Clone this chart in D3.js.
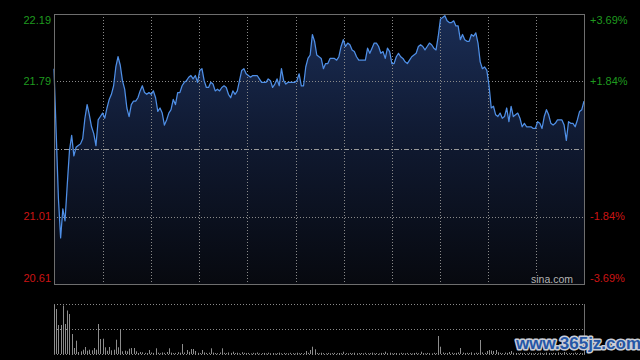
<!DOCTYPE html>
<html>
<head>
<meta charset="utf-8">
<script src="https://cdn.jsdelivr.net/npm/d3@7/dist/d3.min.js"></script>
<style>
html,body{margin:0;padding:0;background:#000;}
svg{display:block;}
text{font-family:"Liberation Sans",Arial,sans-serif;}
</style>
</head>
<body>
<svg id="chart" width="640" height="360"></svg>
<script>
// ---------- data ----------
const prevClose = 21.40;
const priceDomain = [20.61, 22.19];
const priceTickValues = [22.19, 21.795, 21.005, 20.61];
const priceTickLabels = ["22.19", "21.79", "21.01", "20.61"];
const pctTickLabels = ["+3.69%", "+1.84%", "-1.84%", "-3.69%"];
const tickIsUp = [true, true, false, false];
const minutesCount = 241;
const gridDivisions = 11;

const prices = [
 21.87,21.49,21.11,20.88,21.05,20.98,21.19,21.39,21.48,21.36,
 21.41,21.42,21.43,21.46,21.58,21.66,21.60,21.53,21.49,21.42,
 21.57,21.59,21.61,21.58,21.64,21.69,21.72,21.77,21.88,21.94,
 21.89,21.80,21.75,21.64,21.59,21.66,21.68,21.68,21.70,21.74,
 21.77,21.73,21.72,21.73,21.72,21.74,21.70,21.62,21.64,21.61,
 21.54,21.57,21.61,21.63,21.69,21.66,21.73,21.73,21.77,21.79,
 21.80,21.82,21.83,21.81,21.83,21.79,21.86,21.87,21.80,21.76,
 21.76,21.79,21.78,21.74,21.75,21.74,21.76,21.77,21.76,21.72,
 21.70,21.74,21.72,21.74,21.80,21.86,21.87,21.84,21.83,21.82,
 21.83,21.83,21.83,21.81,21.79,21.79,21.79,21.81,21.80,21.76,
 21.78,21.81,21.77,21.87,21.80,21.78,21.79,21.79,21.79,21.79,
 21.80,21.84,21.77,21.77,21.88,21.93,21.95,22.07,22.03,21.95,
 21.94,21.93,21.87,21.90,21.90,21.93,21.93,21.93,21.92,21.94,
 22.00,22.04,22.00,22.02,22.01,21.98,21.97,21.94,21.92,21.92,
 21.92,21.92,21.99,21.96,21.99,22.02,22.02,22.00,21.96,21.97,
 21.93,21.99,21.97,21.90,21.90,21.94,21.96,21.94,21.93,21.91,
 21.90,21.92,21.94,21.95,21.96,22.00,22.01,22.00,21.98,22.00,
 22.02,22.01,21.99,21.98,22.06,22.16,22.17,22.18,22.15,22.14,
 22.14,22.15,22.12,22.12,22.04,22.07,22.04,22.03,22.03,22.07,
 22.06,22.08,22.02,21.91,21.87,21.88,21.86,21.77,21.64,21.65,
 21.60,21.59,21.61,21.58,21.59,21.64,21.56,21.65,21.59,21.60,
 21.61,21.58,21.53,21.55,21.53,21.53,21.53,21.52,21.52,21.56,
 21.55,21.52,21.59,21.63,21.60,21.55,21.54,21.55,21.57,21.57,
 21.57,21.54,21.45,21.56,21.55,21.55,21.53,21.57,21.62,21.63,
 21.68
];

const volumeMax = 5000;
const volumes = [
 4950,4500,2900,2900,4850,3000,4350,4000,2000,600,
 1330,200,270,430,700,330,430,370,600,430,
 3000,1500,1530,670,330,700,370,430,1430,670,
 2500,270,330,270,530,600,600,270,100,200,
 170,120,90,400,150,110,570,130,80,160,
 120,200,570,140,90,110,180,130,1000,150,
 400,220,500,500,300,120,90,400,160,110,
 130,570,140,100,80,150,570,120,90,160,
 110,230,100,130,70,180,120,90,110,60,
 120,80,150,70,90,110,60,130,80,100,
 60,90,140,70,110,80,60,120,90,70,
 130,80,100,90,300,120,400,730,470,110,
 80,130,90,70,110,60,90,120,80,100,
 70,230,90,60,110,80,130,70,90,100,
 60,120,80,90,140,70,100,60,110,90,
 230,80,130,70,90,100,60,120,80,70,
 110,90,60,100,130,80,230,90,70,110,
 80,60,120,90,1800,730,150,110,90,200,
 130,80,110,160,600,140,90,120,100,170,
 80,130,110,1400,160,120,300,400,350,300,
 400,180,120,90,150,110,200,300,130,100,
 80,120,90,110,70,130,90,60,110,80,
 130,90,70,150,100,80,120,90,160,110,
 80,200,130,90,100,70,140,90,110,80,
 230
];

// ---------- layout ----------
const main = {left:54, right:584, top:14, bottom:284};
const vol = {top:304, mid:329, bottom:354};

const svg = d3.select("#chart");
svg.append("rect").attr("width",640).attr("height",360).attr("fill","#000");

const x = d3.scaleLinear().domain([0, minutesCount-1]).range([main.left, main.right]);
const y = d3.scaleLinear().domain(priceDomain).range([main.bottom, main.top]);
const yv = d3.scaleLinear().domain([0, volumeMax]).range([vol.bottom, vol.top]);

const defs = svg.append("defs");
const grad = defs.append("linearGradient").attr("id","areaGrad")
  .attr("gradientUnits","userSpaceOnUse")
  .attr("x1",0).attr("y1",main.top).attr("x2",0).attr("y2",main.bottom);
grad.append("stop").attr("offset","0%").attr("stop-color","#1a2d55");
grad.append("stop").attr("offset","45%").attr("stop-color","#101a32");
grad.append("stop").attr("offset","100%").attr("stop-color","#07090f");

// area
const data = prices.map((p,i)=>({i, p}));
svg.append("path").datum(data)
  .attr("fill","url(#areaGrad)")
  .attr("d", d3.area().x(d=>x(d.i)).y0(main.bottom).y1(d=>y(d.p)));

// grid: horizontal
const crisp = v => Math.round(v) + 0.5;
priceTickValues.forEach((v,k)=>{
  if (k===0 || k===priceTickValues.length-1) return;
  svg.append("line")
    .attr("x1",main.left).attr("x2",main.right)
    .attr("y1",crisp(y(v))).attr("y2",crisp(y(v)))
    .attr("stroke","#8a8a8a").attr("stroke-width",1).attr("stroke-dasharray","1,2");
});
// prev close line
svg.append("line")
  .attr("x1",main.left).attr("x2",main.right)
  .attr("y1",crisp(y(prevClose))).attr("y2",crisp(y(prevClose)))
  .attr("stroke","#9a9a9a").attr("stroke-width",1).attr("stroke-dasharray","5,2,1,2");
// grid: vertical
d3.range(1, gridDivisions).forEach(k=>{
  const gx = crisp(x((minutesCount-1)*k/gridDivisions) + 0.6);
  svg.append("line")
    .attr("x1",gx).attr("x2",gx).attr("y1",main.top).attr("y2",main.bottom)
    .attr("stroke","#8a8a8a").attr("stroke-width",1).attr("stroke-dasharray","1,2");
});

// price line
svg.append("path").datum(data)
  .attr("fill","none").attr("stroke","#4f8fe6").attr("stroke-width",1.25)
  .attr("stroke-linejoin","round")
  .attr("d", d3.line().x(d=>x(d.i)).y(d=>y(d.p)));

// main frame
svg.append("rect")
  .attr("x",main.left+0.5).attr("y",main.top+0.5)
  .attr("width",main.right-main.left).attr("height",main.bottom-main.top)
  .attr("fill","none").attr("stroke","#6e6e6e").attr("stroke-width",1);

// watermark sina.com
svg.append("rect").attr("x",531).attr("y",274).attr("width",43).attr("height",10).attr("fill","#06080e");
svg.append("text").attr("x",573).attr("y",283)
  .attr("text-anchor","end").attr("font-size",10.5).attr("fill","#b4b4b4").text("sina.com");

// axis labels
priceTickValues.forEach((v,k)=>{
  const ty = Math.max(main.top+6, Math.min(main.bottom-6, y(v)));
  const col = tickIsUp[k] ? "#1f9a1f" : "#cc1414";
  svg.append("text").attr("x",51).attr("y",ty).attr("dy","0.36em")
    .attr("text-anchor","end").attr("font-size",11).attr("fill",col).text(priceTickLabels[k]);
  svg.append("text").attr("x",590).attr("y",ty).attr("dy","0.36em")
    .attr("text-anchor","start").attr("font-size",11).attr("fill",col).text(pctTickLabels[k]);
});

// volume pane grid
[vol.top, vol.mid, vol.bottom].forEach(vy=>{
  svg.append("line").attr("x1",main.left).attr("x2",main.right)
    .attr("y1",vy+0.5).attr("y2",vy+0.5)
    .attr("stroke","#8a8a8a").attr("stroke-width",1).attr("stroke-dasharray","1,2");
});
svg.append("line").attr("x1",main.left+0.5).attr("x2",main.left+0.5)
  .attr("y1",vol.top).attr("y2",vol.bottom+1).attr("stroke","#6e6e6e");
svg.append("line").attr("x1",main.right+0.5).attr("x2",main.right+0.5)
  .attr("y1",vol.top).attr("y2",vol.bottom+1).attr("stroke","#6e6e6e");

// volume bars
svg.append("g").selectAll("rect").data(volumes).join("rect")
  .attr("x",(d,i)=>Math.round(x(i)))
  .attr("width",1)
  .attr("y",d=>yv(d))
  .attr("height",d=>Math.max(1, vol.bottom - yv(d)))
  .attr("fill","#8c8c8c");

// site watermark
svg.append("text").attr("x",516).attr("y",349)
  .attr("font-family","'Liberation Serif','DejaVu Serif',serif")
  .attr("font-weight","bold").attr("font-size",17)
  .attr("fill","#2456a6").attr("stroke","#c9cdd6").attr("stroke-width",3)
  .attr("paint-order","stroke").attr("stroke-linejoin","round")
  .text("www.365jz.com");
</script>
</body>
</html>
